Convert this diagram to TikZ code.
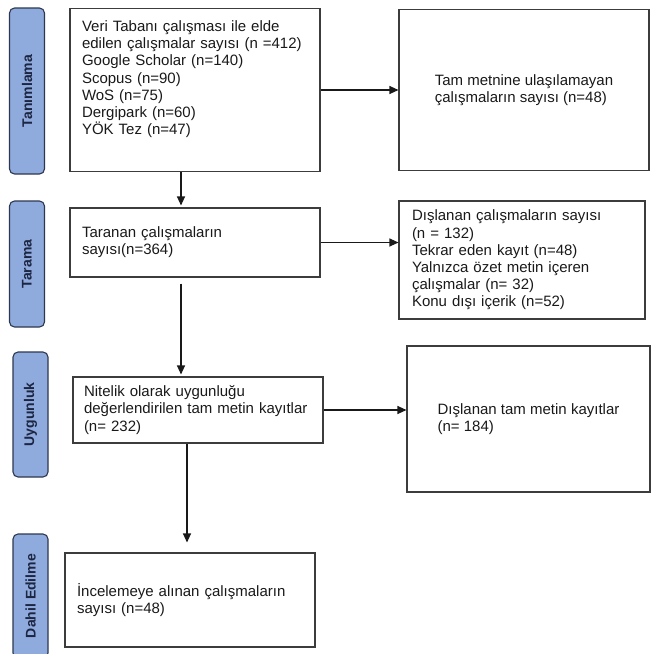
\documentclass[tikz,border=0pt]{standalone}
\usepackage{fontspec}
\setmainfont{Liberation Sans}
\usetikzlibrary{arrows.meta,positioning}
\hyphenpenalty=10000
\exhyphenpenalty=10000
\definecolor{fledge}{RGB}{60,60,60}
\definecolor{flink}{RGB}{25,25,25}
\definecolor{phfill}{RGB}{143,170,220}
\definecolor{phedge}{RGB}{45,55,80}
\definecolor{phink}{RGB}{28,38,66}
\tikzset{
  flbox/.style={
    draw=fledge, line width=1.1pt, align=left, inner ysep=4pt,
    font=\fontsize{15}{17.2}\selectfont, text=flink
  },
  phase/.style={
    draw=phedge, fill=phfill, line width=1.1pt, rounded corners=5pt,
    rotate=90, minimum height=35pt, inner sep=2pt,
    font=\fontsize{14}{16}\selectfont\bfseries, text=phink
  },
  arr/.style={-{Triangle[length=9pt,width=8pt]}, draw=flink, line width=1.1pt}
}

\begin{document}
\begin{tikzpicture}[x=1pt,y=-1pt]
  \useasboundingbox (0,0) rectangle (651,654);
  % phases
  \node[phase, minimum width=166pt] (tanim) at (27,91) {Tanımlama};
  \node[phase, minimum width=126pt] (tarama) at (27,264) {Tarama};
  \node[phase, minimum width=125pt] (uygun) at (30.5,414.5) {Uygunluk};
  \node[phase, minimum width=124pt] (dahil) at (30.5,596) {Dahil Edilme};
  % boxes
  \node[flbox, text width=226pt, inner xsep=12pt, minimum height=163pt, text depth=128pt] (kayit) at (195,90)
    {Veri Tabanı çalışması ile elde\\edilen çalışmalar sayısı (n =412)\\Google Scholar (n=140)\\Scopus (n=90)\\WoS (n=75)\\Dergipark (n=60)\\YÖK Tez (n=47)};
  \node[flbox, minimum width=250pt, minimum height=161pt] (erisim) at (524,90)
    {Tam metnine ulaşılamayan\\çalışmaların sayısı (n=48)};
  \node[flbox, text width=226pt, inner xsep=12pt, minimum height=69pt] (tara) at (195,242.5)
    {Taranan çalışmaların\\sayısı(n=364)};
  \node[flbox, text width=220pt, inner xsep=13pt, minimum height=118pt] (disla) at (522,260)
    {Dışlanan çalışmaların sayısı\\(n = 132)\\Tekrar eden kayıt (n=48)\\Yalnızca özet metin içeren\\çalışmalar (n= 32)\\Konu dışı içerik (n=52)};
  \node[flbox, text width=228pt, inner xsep=11pt, minimum height=66pt] (nitel) at (198,410)
    {Nitelik olarak uygunluğu\\değerlendirilen tam metin kayıtlar\\(n= 232)};
  \node[flbox, minimum width=243pt, minimum height=146pt] (dislatam) at (528.5,419)
    {Dışlanan tam metin kayıtlar\\(n= 184)};
  \node[flbox, text width=226pt, inner xsep=12pt, minimum height=94pt] (incele) at (190,600)
    {İncelemeye alınan çalışmaların\\sayısı (n=48)};
  % arrows
  \draw[arr] (kayit) -- (erisim);
  \draw[arr, shorten >=2pt] ([xshift=-14pt]kayit.south) -- ([xshift=-14pt]tara.north);
  \draw[arr] (tara.east) -- (tara.east -| disla.west);
  \draw[arr, shorten <=6pt, shorten >=2pt] ([xshift=-14pt]tara.south) -- ([xshift=-17pt]nitel.north);
  \draw[arr] (nitel.east) -- (nitel.east -| dislatam.west);
  \draw[arr, shorten >=10pt] ([xshift=-11pt]nitel.south) -- ([xshift=-3pt]incele.north);
\end{tikzpicture}
\end{document}
